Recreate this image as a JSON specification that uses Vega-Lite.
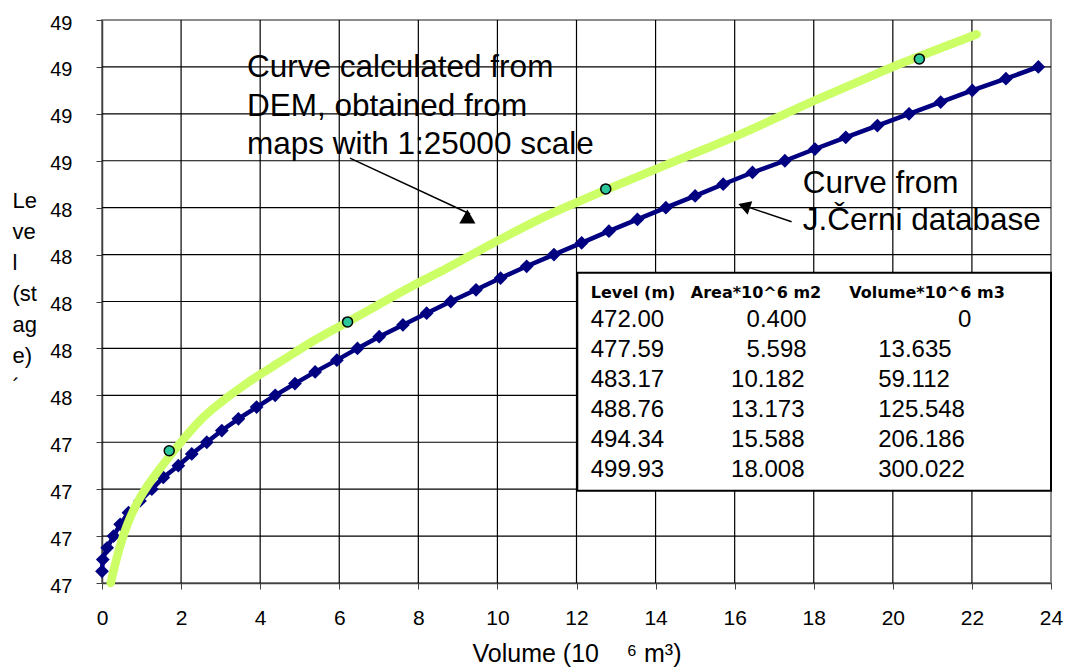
{
  "$schema": "https://vega.github.io/schema/vega-lite/v6.json",
  "width": 949,
  "height": 563,
  "autosize": {"type": "none"},
  "padding": {"left": 102, "top": 20, "right": 17, "bottom": 85},
  "background": "white",
  "config": {
    "view": {"stroke": "#8c8c8c", "strokeWidth": 2, "fill": "transparent"},
    "font": "Liberation Sans",
    "axis": {
      "labelFont": "Liberation Sans",
      "titleFont": "Liberation Sans",
      "labelColor": "black",
      "titleColor": "black",
      "domainColor": "#404040",
      "domainWidth": 1.5,
      "tickColor": "#404040",
      "tickWidth": 1,
      "tickSize": 6,
      "titleFontWeight": "normal"
    }
  },
  "datasets": {
    "vgrid": [
      {"vol": 2, "from": 46.7, "to": 49.1}, {"vol": 4, "from": 46.7, "to": 49.1},
      {"vol": 6, "from": 46.7, "to": 49.1}, {"vol": 8, "from": 46.7, "to": 49.1},
      {"vol": 10, "from": 46.7, "to": 49.1}, {"vol": 12, "from": 46.7, "to": 49.1},
      {"vol": 14, "from": 46.7, "to": 49.1}, {"vol": 16, "from": 46.7, "to": 49.1},
      {"vol": 18, "from": 46.7, "to": 49.1}, {"vol": 20, "from": 46.7, "to": 49.1},
      {"vol": 22, "from": 46.7, "to": 49.1}
    ],
    "hgrid": [
      {"lvl": 46.9, "from": 0, "to": 24}, {"lvl": 47.1, "from": 0, "to": 24},
      {"lvl": 47.3, "from": 0, "to": 24}, {"lvl": 47.5, "from": 0, "to": 24},
      {"lvl": 47.7, "from": 0, "to": 24}, {"lvl": 47.9, "from": 0, "to": 24},
      {"lvl": 48.1, "from": 0, "to": 24}, {"lvl": 48.3, "from": 0, "to": 24},
      {"lvl": 48.5, "from": 0, "to": 24}, {"lvl": 48.7, "from": 0, "to": 24},
      {"lvl": 48.9, "from": 0, "to": 24}
    ],
    "cerni": [
      {"vol": 0.00, "lvl": 46.75}, {"vol": 0.02, "lvl": 46.80}, {"vol": 0.13, "lvl": 46.85},
      {"vol": 0.29, "lvl": 46.90}, {"vol": 0.46, "lvl": 46.95}, {"vol": 0.67, "lvl": 47.00},
      {"vol": 0.96, "lvl": 47.05}, {"vol": 1.26, "lvl": 47.10}, {"vol": 1.55, "lvl": 47.15},
      {"vol": 1.93, "lvl": 47.20}, {"vol": 2.27, "lvl": 47.25}, {"vol": 2.65, "lvl": 47.30},
      {"vol": 3.03, "lvl": 47.35}, {"vol": 3.45, "lvl": 47.40}, {"vol": 3.91, "lvl": 47.45},
      {"vol": 4.38, "lvl": 47.50}, {"vol": 4.88, "lvl": 47.55}, {"vol": 5.39, "lvl": 47.60},
      {"vol": 5.94, "lvl": 47.65}, {"vol": 6.46, "lvl": 47.70}, {"vol": 7.01, "lvl": 47.75},
      {"vol": 7.61, "lvl": 47.80}, {"vol": 8.21, "lvl": 47.85}, {"vol": 8.82, "lvl": 47.90},
      {"vol": 9.46, "lvl": 47.95}, {"vol": 10.08, "lvl": 48.00}, {"vol": 10.74, "lvl": 48.05},
      {"vol": 11.43, "lvl": 48.10}, {"vol": 12.13, "lvl": 48.15}, {"vol": 12.82, "lvl": 48.20},
      {"vol": 13.54, "lvl": 48.25}, {"vol": 14.26, "lvl": 48.30}, {"vol": 15.00, "lvl": 48.35},
      {"vol": 15.71, "lvl": 48.40}, {"vol": 16.45, "lvl": 48.45}, {"vol": 17.27, "lvl": 48.50},
      {"vol": 18.03, "lvl": 48.55}, {"vol": 18.81, "lvl": 48.60}, {"vol": 19.61, "lvl": 48.65},
      {"vol": 20.41, "lvl": 48.70}, {"vol": 21.21, "lvl": 48.75}, {"vol": 22.01, "lvl": 48.80},
      {"vol": 22.86, "lvl": 48.85}, {"vol": 23.68, "lvl": 48.90}
    ],
    "dem": [
      {"vol": 0.22, "lvl": 46.70}, {"vol": 0.37, "lvl": 46.81}, {"vol": 0.62, "lvl": 46.95},
      {"vol": 0.96, "lvl": 47.07}, {"vol": 1.38, "lvl": 47.17}, {"vol": 1.89, "lvl": 47.28},
      {"vol": 2.40, "lvl": 47.38}, {"vol": 2.68, "lvl": 47.43}, {"vol": 3.74, "lvl": 47.565},
      {"vol": 4.50, "lvl": 47.64}, {"vol": 5.34, "lvl": 47.735}, {"vol": 6.19, "lvl": 47.81},
      {"vol": 7.03, "lvl": 47.89}, {"vol": 7.87, "lvl": 47.97}, {"vol": 8.72, "lvl": 48.04},
      {"vol": 9.56, "lvl": 48.12}, {"vol": 11.08, "lvl": 48.255}, {"vol": 11.92, "lvl": 48.316},
      {"vol": 12.76, "lvl": 48.378}, {"vol": 13.61, "lvl": 48.436}, {"vol": 14.45, "lvl": 48.496},
      {"vol": 15.29, "lvl": 48.553}, {"vol": 16.14, "lvl": 48.61}, {"vol": 17.65, "lvl": 48.73},
      {"vol": 18.50, "lvl": 48.792}, {"vol": 19.34, "lvl": 48.852}, {"vol": 20.18, "lvl": 48.915},
      {"vol": 21.45, "lvl": 48.995}, {"vol": 22.12, "lvl": 49.039}
    ],
    "demPts": [
      {"vol": 1.70, "lvl": 47.264}, {"vol": 6.21, "lvl": 47.813},
      {"vol": 12.74, "lvl": 48.380}, {"vol": 20.67, "lvl": 48.934}
    ],
    "tableBox": [
      {"vol": 12.02, "vol2": 24.0, "lvl": 48.023, "lvl2": 47.093}
    ],
    "tableHead": [
      {"text": "Level (m)", "vol": 12.36, "lvl": 47.914},
      {"text": "Area*10^6 m2", "vol": 14.89, "lvl": 47.914},
      {"text": "Volume*10^6 m3", "vol": 18.90, "lvl": 47.914}
    ],
    "tableCells": [
      {"text": "472.00", "vol": 12.36, "lvl": 47.793},
      {"text": "0.400", "vol": 16.30, "lvl": 47.793},
      {"text": "0", "vol": 21.65, "lvl": 47.793},
      {"text": "477.59", "vol": 12.36, "lvl": 47.665},
      {"text": "5.598", "vol": 16.30, "lvl": 47.665},
      {"text": "13.635", "vol": 19.63, "lvl": 47.665},
      {"text": "483.17", "vol": 12.36, "lvl": 47.537},
      {"text": "10.182", "vol": 15.91, "lvl": 47.537},
      {"text": "59.112", "vol": 19.63, "lvl": 47.537},
      {"text": "488.76", "vol": 12.36, "lvl": 47.409},
      {"text": "13.173", "vol": 15.91, "lvl": 47.409},
      {"text": "125.548", "vol": 19.63, "lvl": 47.409},
      {"text": "494.34", "vol": 12.36, "lvl": 47.281},
      {"text": "15.588", "vol": 15.91, "lvl": 47.281},
      {"text": "206.186", "vol": 19.63, "lvl": 47.281},
      {"text": "499.93", "vol": 12.36, "lvl": 47.151},
      {"text": "18.008", "vol": 15.91, "lvl": 47.151},
      {"text": "300.022", "vol": 19.63, "lvl": 47.151}
    ],
    "notes": [
      {"text": "Curve calculated from", "vol": 3.667, "lvl": 48.857},
      {"text": "DEM, obtained from", "vol": 3.667, "lvl": 48.691},
      {"text": "maps with 1:25000 scale", "vol": 3.667, "lvl": 48.529},
      {"text": "Curve from", "vol": 17.72, "lvl": 48.363},
      {"text": "J.Černi database", "vol": 17.72, "lvl": 48.205}
    ],
    "arrows": [
      {"vol": 6.27, "lvl": 48.511, "vol2": 9.31, "lvl2": 48.273},
      {"vol": 17.44, "lvl": 48.240, "vol2": 16.14, "lvl2": 48.314}
    ],
    "head1": [{"vol": 9.24, "lvl": 48.262}],
    "head2": [{"vol": 16.24, "lvl": 48.307}]
  },
  "encoding": {
    "x": {
      "field": "vol", "type": "quantitative",
      "scale": {"domain": [0, 24], "nice": false, "zero": false},
      "axis": {
        "values": [0, 2, 4, 6, 8, 10, 12, 14, 16, 18, 20, 22, 24],
        "grid": false,
        "format": "d",
        "labelFontSize": 21,
        "labelPadding": 18,
        "labelFlush": false,
        "title": "Volume (10\u00a0\u00a0\u00a0\u00a0\u2076 m\u00b3)",
        "titleFontSize": 25,
        "titleBaseline": "alphabetic",
        "titleY": 78
      }
    },
    "y": {
      "field": "lvl", "type": "quantitative",
      "scale": {"domain": [46.7, 49.1], "nice": false, "zero": false},
      "axis": {
        "values": [46.7, 46.9, 47.1, 47.3, 47.5, 47.7, 47.9, 48.1, 48.3, 48.5, 48.7, 48.9, 49.1],
        "grid": false,
        "labelExpr": "format(datum.value + 0.001, '.0f')",
        "labelFontSize": 20,
        "labelPadding": 24,
        "labelOffset": 3,
        "labelFlush": false,
        "title": ["Le", "ve", "l", "(st", "ag", "e)", "\u00b4"],
        "titleFontSize": 22,
        "titleAngle": 0,
        "titleAlign": "left",
        "titleBaseline": "alphabetic",
        "titleX": -90,
        "titleY": 187,
        "titleLineHeight": 31
      }
    }
  },
  "layer": [
    {
      "data": {"name": "vgrid"},
      "mark": {"type": "rule", "color": "black", "strokeWidth": 1.2},
      "encoding": {
        "y": {"field": "from", "type": "quantitative"},
        "y2": {"field": "to"}
      }
    },
    {
      "data": {"name": "hgrid"},
      "mark": {"type": "rule", "color": "black", "strokeWidth": 1.2},
      "encoding": {
        "x": {"field": "from", "type": "quantitative"},
        "x2": {"field": "to"}
      }
    },
    {
      "data": {"name": "cerni"},
      "mark": {"type": "line", "color": "#000080", "strokeWidth": 4.5, "clip": false}
    },
    {
      "data": {"name": "cerni"},
      "mark": {"type": "point", "shape": "diamond", "filled": true, "color": "#000080", "size": 190, "opacity": 1, "clip": false}
    },
    {
      "data": {"name": "dem"},
      "mark": {"type": "line", "color": "#CCFF66", "strokeWidth": 8.5, "strokeCap": "round", "interpolate": "basis", "clip": false}
    },
    {
      "data": {"name": "demPts"},
      "mark": {"type": "point", "shape": "circle", "filled": true, "fill": "#2BC79A", "stroke": "black", "strokeWidth": 1.5, "size": 100, "opacity": 1}
    },
    {
      "data": {"name": "tableBox"},
      "mark": {"type": "rect", "fill": "white", "stroke": "black", "strokeWidth": 2, "clip": false},
      "encoding": {
        "x2": {"field": "vol2"},
        "y2": {"field": "lvl2"}
      }
    },
    {
      "data": {"name": "tableHead"},
      "mark": {"type": "text", "align": "left", "baseline": "alphabetic", "font": "DejaVu Sans", "fontWeight": "bold", "fontSize": 16, "color": "black"},
      "encoding": {"text": {"field": "text"}}
    },
    {
      "data": {"name": "tableCells"},
      "mark": {"type": "text", "align": "left", "baseline": "alphabetic", "font": "Liberation Sans", "fontSize": 24, "color": "black"},
      "encoding": {"text": {"field": "text"}}
    },
    {
      "data": {"name": "notes"},
      "mark": {"type": "text", "align": "left", "baseline": "alphabetic", "font": "Liberation Sans", "fontSize": 31.5, "color": "black"},
      "encoding": {"text": {"field": "text"}}
    },
    {
      "data": {"name": "arrows"},
      "mark": {"type": "rule", "color": "black", "strokeWidth": 1.5},
      "encoding": {
        "x2": {"field": "vol2"},
        "y2": {"field": "lvl2"}
      }
    },
    {
      "data": {"name": "head1"},
      "mark": {"type": "point", "shape": "triangle-up", "filled": true, "color": "black", "size": 260, "opacity": 1}
    },
    {
      "data": {"name": "head2"},
      "mark": {"type": "point", "shape": "triangle-up", "filled": true, "color": "black", "size": 200, "angle": 289, "opacity": 1}
    }
  ]
}
